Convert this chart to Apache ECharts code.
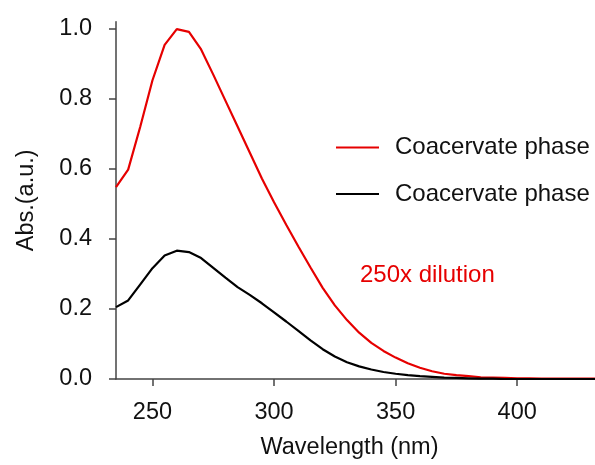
<!DOCTYPE html>
<html>
<head>
<meta charset="utf-8">
<script src="https://cdn.jsdelivr.net/npm/echarts@6/dist/echarts.min.js"></script>
<style>html,body{margin:0;padding:0;background:#fff;}#c{width:595px;height:465px;}</style>
</head>
<body>
<div id="c"></div>
<script>
var wavelengths = [235,240,245,250,255,260,265,270,275,280,285,290,295,300,305,310,315,320,325,330,335,340,345,350,355,360,365,370,375,380,385,390,395,400,405,410,415,420,425,430,435];
var redValues   = [0.547,0.597,0.72,0.852,0.953,0.998,0.99,0.94,0.868,0.794,0.72,0.646,0.572,0.504,0.44,0.378,0.318,0.26,0.21,0.168,0.132,0.103,0.08,0.061,0.045,0.032,0.022,0.015,0.011,0.008,0.005,0.004,0.003,0.002,0.002,0.001,0.001,0.001,0.001,0.001,0.001];
var blackValues = [0.205,0.224,0.27,0.316,0.352,0.366,0.362,0.345,0.317,0.289,0.262,0.24,0.216,0.19,0.164,0.137,0.11,0.085,0.064,0.048,0.036,0.027,0.02,0.015,0.011,0.008,0.006,0.004,0.003,0.002,0.001,0.001,0,0,0,0,0,0,0,0,0];
var xTicks = [250,300,350,400];
var yTicks = [0,0.2,0.4,0.6,0.8,1.0];
var legendLabels = ['Coacervate phase','Coacervate phase'];
var seriesNames = ['red','black'];
var annotation = '250x dilution';
var xTitle = 'Wavelength (nm)';
var yTitle = 'Abs.(a.u.)';

function pairs(xs, ys){ return xs.map(function(x,i){ return [x, ys[i]]; }); }

var FONT = 'Liberation Sans, Arial, sans-serif';
var chart = echarts.init(document.getElementById('c'), null, {renderer:'canvas'});
chart.setOption({
  animation:false,
  backgroundColor:'#ffffff',
  grid:{left:116, right:0, top:21.7, bottom:83.3, containLabel:false},
  xAxis:{
    type:'value', min:235, max:432,
    name:xTitle, nameLocation:'middle', nameGap:57,
    nameTextStyle:{fontFamily:FONT, fontSize:23.5, color:'#111', padding:[0,12,0,0]},
    axisLine:{lineStyle:{color:'#444', width:1.5}},
    axisTick:{show:true, inside:false, length:7, customValues:xTicks, lineStyle:{color:'#444', width:1.5}},
    axisLabel:{customValues:xTicks, margin:22, fontFamily:FONT, fontSize:23.5, color:'#111'},
    splitLine:{show:false}
  },
  yAxis:{
    type:'value', min:0, max:1.019,
    name:yTitle, nameLocation:'middle', nameGap:77, nameRotate:90,
    nameTextStyle:{fontFamily:FONT, fontSize:23.5, color:'#111'},
    axisLine:{show:true, lineStyle:{color:'#444', width:1.5}},
    axisTick:{show:true, inside:false, length:7, customValues:yTicks, lineStyle:{color:'#444', width:1.5}},
    axisLabel:{customValues:yTicks, margin:24, fontFamily:FONT, fontSize:23.5, color:'#111',
      formatter:function(v){ return v.toFixed(1); }},
    splitLine:{show:false}
  },
  legend:{
    orient:'vertical', left:330, top:130.4,
    itemWidth:43, itemHeight:20, itemGap:22.6,
    data:seriesNames,
    itemStyle:{opacity:0},
    formatter:function(n){ return legendLabels[seriesNames.indexOf(n)]; },
    textStyle:{fontFamily:FONT, fontSize:24, lineHeight:20, color:'#111', padding:[0,0,0,11]}
  },
  graphic:[{
    type:'text', left:360, top:263,
    style:{text:annotation, fill:'#e60000', font:'24px Liberation Sans, Arial, sans-serif'}
  }],
  series:[
    {name:seriesNames[0], type:'line', data:pairs(wavelengths, redValues), symbol:'none', smooth:false,
     lineStyle:{color:'#e60000', width:2.2}, itemStyle:{color:'#e60000'}, clip:true},
    {name:seriesNames[1], type:'line', data:pairs(wavelengths, blackValues), symbol:'none', smooth:false,
     lineStyle:{color:'#000', width:2.2}, itemStyle:{color:'#000'}, clip:true}
  ]
});
</script>
</body>
</html>
